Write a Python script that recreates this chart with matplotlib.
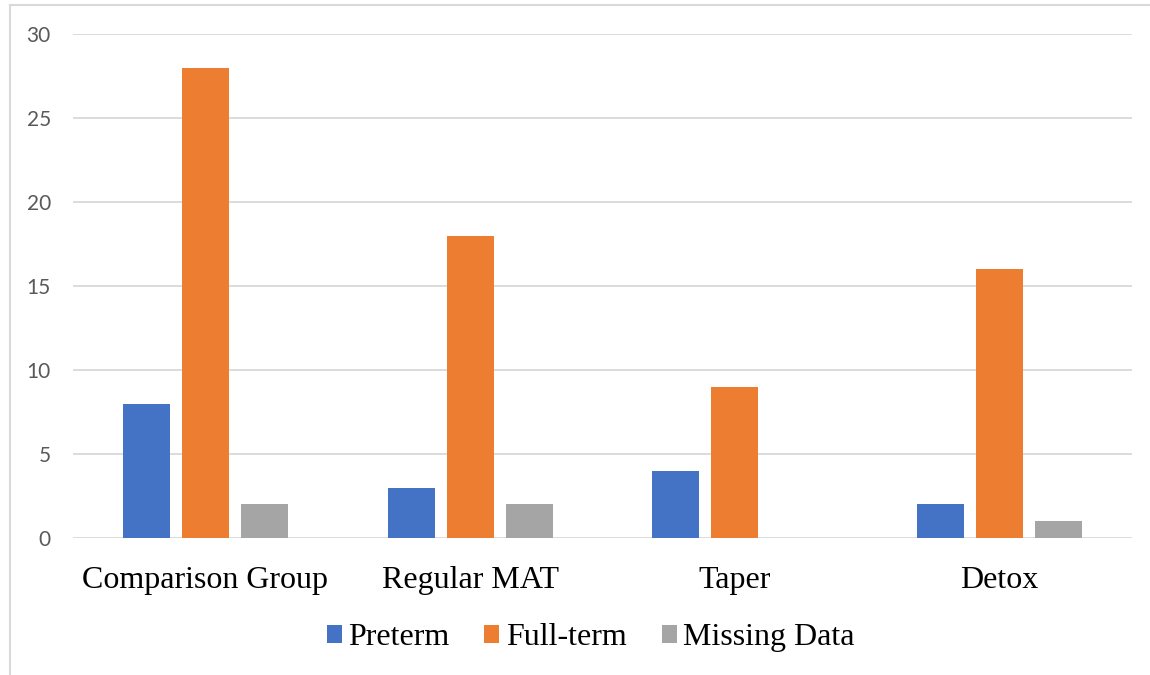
import matplotlib.pyplot as plt
import numpy as np
from matplotlib.lines import Line2D

categories = ["Comparison Group", "Regular MAT", "Taper", "Detox"]
preterm = [8, 3, 4, 2]
full_term = [28, 18, 9, 16]
missing = [2, 2, 0, 1]
series_names = ["Preterm", "Full-term", "Missing Data"]
yticks = [0, 5, 10, 15, 20, 25, 30]

COLORS = ["#4472C4", "#ED7D31", "#A5A5A5"]

fig = plt.figure(figsize=(11.5, 6.75), dpi=100)
ax = fig.add_axes([0.0635, 0.203, 0.9209, 0.7466])

x = np.arange(len(categories))
width = 0.1775
step = 0.223
for i, (vals, name) in enumerate(zip([preterm, full_term, missing], series_names)):
    ax.bar(x + (i - 1) * step, vals, width, color=COLORS[i], label=name,
           zorder=3)

ax.set_xlim(-0.5, len(categories) - 0.5)
ax.set_ylim(0, 30)
ax.set_yticks(yticks)
ax.set_yticklabels([str(t) for t in yticks], fontsize=15, color="#595959",
                   family="Lato")
ax.set_xticks(x)
ax.set_xticklabels(categories, fontsize=23, family="Liberation Serif",
                   color="black")
ax.tick_params(axis="both", length=0)
ax.tick_params(axis="x", pad=20)
ax.tick_params(axis="y", pad=16)
ax.grid(True, axis="y", color="#D9D9D9", lw=1.3, zorder=0)
for s in ax.spines.values():
    s.set_visible(False)

ax.legend(loc="center", bbox_to_anchor=(0.4887, -0.198), ncol=3,
          frameon=False, handlelength=0.47, handleheight=0.47,
          handletextpad=0.2, columnspacing=1.1,
          prop={"family": "Liberation Serif", "size": 23})

# chart-area border (left and top edges visible)
fig.add_artist(Line2D([0.0085, 0.0085], [0, 0.993], color="#D9D9D9", lw=1.5,
                      transform=fig.transFigure))
fig.add_artist(Line2D([0.0085, 1], [0.993, 0.993], color="#D9D9D9", lw=1.5,
                      transform=fig.transFigure))

fig.savefig("out.png")
